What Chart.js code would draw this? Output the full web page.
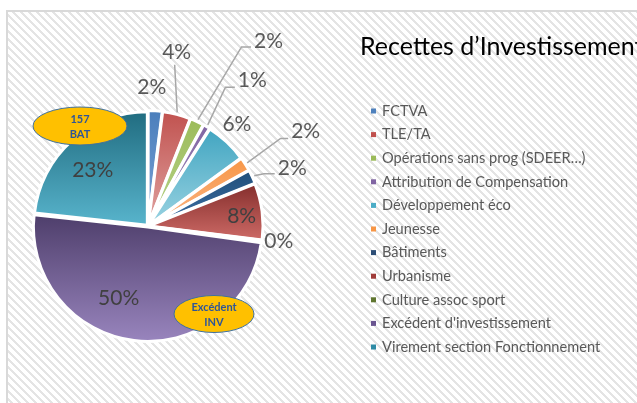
<!DOCTYPE html>
<html>
<head>
<meta charset="utf-8">
<script src="https://cdn.jsdelivr.net/npm/chart.js@4.4.0/dist/chart.umd.min.js"></script>
<style>
html, body { margin: 0; padding: 0; background: #fff; }
canvas { display: block; }
</style>
</head>
<body>
<canvas id="pie" width="637" height="403"></canvas>
<script>
// data
var categories = ['FCTVA', 'TLE/TA', 'Opérations sans prog (SDEER…)', 'Attribution de Compensation',
    'Développement éco', 'Jeunesse', 'Bâtiments', 'Urbanisme', 'Culture assoc sport',
    "Excédent d'investissement", 'Virement section Fonctionnement'];
var shares = [2, 4, 2, 1, 6, 2, 2, 8, 0.2, 49.6, 23.3];
var chartTitle = 'Recettes d\u2019Investissement';
var notes = [['157', 'BAT'], ['Excédent', 'INV']];

// styles
var legendColors = ['#4f81bd', '#c0504d', '#9bbb59', '#8064a2', '#4bacc6', '#f79646',
    '#2c4d75', '#a03c3a', '#5f7530', '#6a5590', '#2f8ba5'];
var gradTop = ['#4a7ebb', '#c0504d', '#9bbb59', '#8064a2', '#3fa4c0', '#f79646',
    '#1f4e79', '#832d2b', '#5f7530', '#4e3e6b', '#1f6a7e'];
var gradBottom = ['#7ca3d6', '#e0a3a1', '#b9d38b', '#a591c0', '#9ad3e2', '#fbb585',
    '#3d6fa5', '#cd6a66', '#76923c', '#9a86bf', '#58b4cc'];
// label placement: f = radius factor, a = angle nudge (deg), ef/ea = leader elbow
var labelPlace = [
    { f: 1.22, a: -2 },
    { f: 1.55, a: -5, ef: 1.44, ea: -5 },
    { f: 1.94, a: 8, ef: 1.78, ea: 2.4 },
    { f: 1.58, a: 5, ef: 1.40, ea: -1.4 },
    { f: 1.19, a: -2 },
    { f: 1.62, a: 1.5, ef: 1.40, ea: -1 },
    { f: 1.37, a: 3.3, ef: 1.12, ea: 1 },
    { f: 0.83, a: 1.3, inside: true },
    { f: 1.16, a: -1 },
    { f: 0.69, a: 15, inside: true },
    { f: 0.69, a: -3, inside: true }
];

function sliceFill(ctx) {
    var chart = ctx.chart, a = chart.chartArea, i = ctx.dataIndex;
    if (!a || i === undefined) return legendColors[i || 0];
    var cx = (a.left + a.right) / 2, cy = (a.top + a.bottom) / 2;
    var r = Math.min(a.right - a.left, a.bottom - a.top) / 2;
    var data = chart.data.datasets[0].data;
    var total = 0, before = 0;
    for (var k = 0; k < data.length; k++) {
        total += data[k];
        if (k < i) before += data[k];
    }
    var s = -Math.PI / 2 + 2 * Math.PI * before / total;
    var e = s + 2 * Math.PI * data[i] / total;
    var ys = [cy, cy + Math.sin(s) * r, cy + Math.sin(e) * r];
    if (s <= Math.PI / 2 && e >= Math.PI / 2) ys.push(cy + r);
    if (s <= 3 * Math.PI / 2 && e >= 3 * Math.PI / 2) ys.push(cy - r);
    var y0 = Math.min.apply(null, ys), y1 = Math.max.apply(null, ys);
    if (y1 - y0 < 1) y1 = y0 + 1;
    var g = chart.ctx.createLinearGradient(0, y0, 0, y1);
    g.addColorStop(0, gradTop[i]);
    g.addColorStop(1, gradBottom[i]);
    return g;
}

function makeStripes(c) {
    var tile = document.createElement('canvas');
    tile.width = 8; tile.height = 8;
    var t = tile.getContext('2d');
    t.fillStyle = '#ffffff';
    t.fillRect(0, 0, 8, 8);
    t.fillStyle = '#e4e4e4';
    for (var y = 0; y < 8; y++) {
        for (var x = 0; x < 8; x++) {
            var d = ((x - y) % 8 + 8) % 8;
            if (d < 3) t.fillRect(x, y, 1, 1);
        }
    }
    return c.createPattern(tile, 'repeat');
}

var backdrop = {
    id: 'backdrop',
    beforeDraw: function(chart) {
        var c = chart.ctx;
        c.save();
        c.fillStyle = '#ffffff';
        c.fillRect(0, 0, chart.width, chart.height);
        c.fillStyle = makeStripes(c);
        c.fillRect(7, 11, chart.width, chart.height);
        c.strokeStyle = '#d9d9d9';
        c.lineWidth = 2;
        c.beginPath();
        c.moveTo(7, chart.height + 2);
        c.lineTo(7, 11);
        c.lineTo(chart.width + 2, 11);
        c.stroke();
        c.restore();
    }
};

var sliceLabels = {
    id: 'sliceLabels',
    afterDatasetsDraw: function(chart) {
        var c = chart.ctx;
        var meta = chart.getDatasetMeta(0);
        var data = chart.data.datasets[0].data;
        var total = 0;
        for (var k = 0; k < data.length; k++) total += data[k];
        c.save();
        c.font = '21px Lato';
        c.textAlign = 'center';
        c.textBaseline = 'middle';
        for (var i = 0; i < meta.data.length; i++) {
            var p = meta.data[i].getProps(['x', 'y', 'startAngle', 'endAngle', 'outerRadius'], true);
            var lp = labelPlace[i];
            var mid = (p.startAngle + p.endAngle) / 2;
            var ang = mid + lp.a * Math.PI / 180;
            var lx = p.x + Math.cos(ang) * p.outerRadius * lp.f;
            var ly = p.y + Math.sin(ang) * p.outerRadius * lp.f;
            var txt = Math.round(data[i] / total * 100) + '%';
            var w = c.measureText(txt).width;
            if (lp.ef) {
                var sx = p.x + Math.cos(mid) * (p.outerRadius + 4);
                var sy = p.y + Math.sin(mid) * (p.outerRadius + 4);
                var ea = mid + lp.ea * Math.PI / 180;
                var ex = p.x + Math.cos(ea) * p.outerRadius * lp.ef;
                var ey = p.y + Math.sin(ea) * p.outerRadius * lp.ef;
                c.strokeStyle = '#a6a6a6';
                c.lineWidth = 1.5;
                c.beginPath();
                c.moveTo(sx, sy);
                c.lineTo(ex, ey);
                var hx = lx - w / 2 - 3;
                if (hx > ex + 2) c.lineTo(hx, ey);
                c.stroke();
            }
            c.fillStyle = lp.inside ? '#404040' : '#595959';
            c.fillText(txt, lx, ly);
        }
        c.restore();
    }
};

var sideText = {
    id: 'sideText',
    afterDraw: function(chart) {
        var c = chart.ctx;
        var labels = chart.data.labels;
        c.save();
        // title
        c.font = '25px Lato';
        c.fillStyle = '#000000';
        c.textAlign = 'left';
        c.textBaseline = 'alphabetic';
        c.fillText(chartTitle, 360, 55);
        // legend
        c.font = '14.6px Lato';
        c.textBaseline = 'middle';
        for (var i = 0; i < labels.length; i++) {
            var y = 111 + i * 23.6;
            c.fillStyle = legendColors[i];
            c.fillRect(371, y - 2.5, 5, 5);
            c.fillStyle = '#595959';
            c.fillText(labels[i], 382, y);
        }
        // callouts
        var boxes = [
            { x: 80, y: 126, rx: 47, ry: 19 },
            { x: 214, y: 314, rx: 40, ry: 18.5 }
        ];
        for (var j = 0; j < boxes.length; j++) {
            var b = boxes[j];
            c.beginPath();
            c.ellipse(b.x, b.y, b.rx, b.ry, 0, 0, Math.PI * 2);
            c.fillStyle = '#ffc000';
            c.fill();
            c.strokeStyle = '#41719c';
            c.lineWidth = 1;
            c.stroke();
            c.fillStyle = '#2f5597';
            c.font = 'bold 11px Lato';
            c.textAlign = 'center';
            c.fillText(notes[j][0], b.x, b.y - 7);
            c.fillText(notes[j][1], b.x, b.y + 8);
        }
        c.restore();
    }
};

new Chart(document.getElementById('pie'), {
    type: 'pie',
    data: {
        labels: categories,
        datasets: [{
            data: shares,
            backgroundColor: sliceFill,
            borderColor: '#ffffff',
            borderWidth: 3,
            offset: 4
        }]
    },
    options: {
        responsive: false,
        devicePixelRatio: 1,
        animation: false,
        events: [],
        layout: { padding: { left: 31, right: 372, top: 109, bottom: 60 } },
        plugins: {
            legend: { display: false },
            title: { display: false },
            tooltip: { enabled: false }
        }
    },
    plugins: [backdrop, sliceLabels, sideText]
});
</script>
</body>
</html>
